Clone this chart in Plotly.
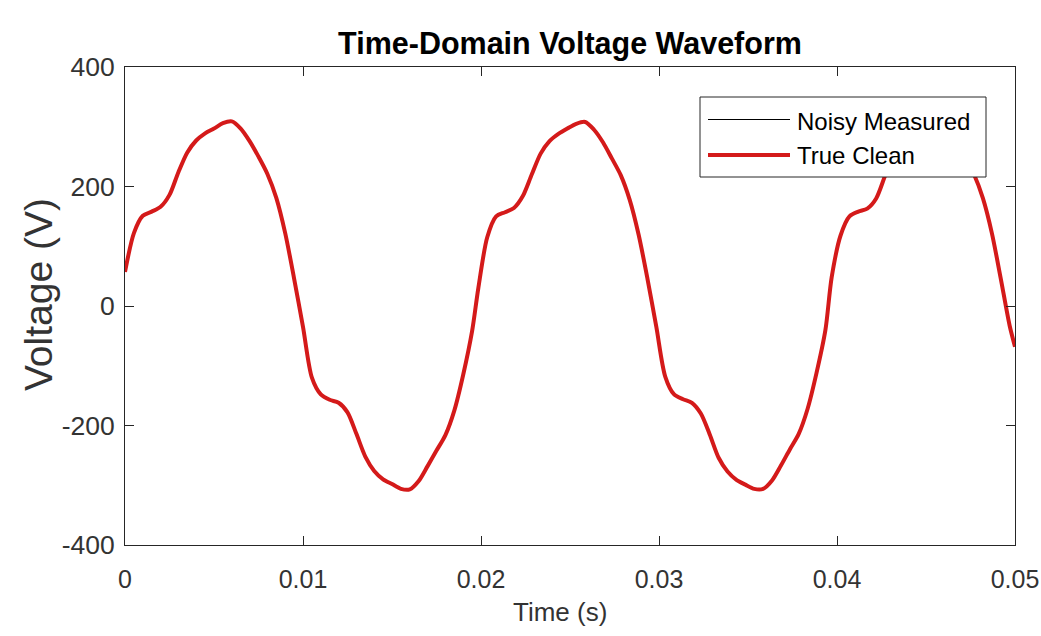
import plotly.graph_objects as go

# ---- data ----
time_c1 = [0.0000, 0.0005, 0.0010, 0.0015, 0.0020, 0.0025, 0.0030, 0.0035, 0.0040, 0.0045,
           0.0050, 0.0055, 0.0060, 0.0065, 0.0070, 0.0075, 0.0080, 0.0085, 0.0090, 0.0095,
           0.0100, 0.0105, 0.0110, 0.0115, 0.0120, 0.0125, 0.0130, 0.0135, 0.0140, 0.0145,
           0.0150, 0.0155, 0.0160, 0.0165, 0.0170, 0.0175, 0.0180, 0.0185, 0.0190, 0.0195]
volt_c1 = [57, 122, 151, 158, 166, 186, 224, 257, 277, 289,
           297, 306, 309, 297, 276, 250, 221, 181, 122, 46,
           -35, -120, -148, -157, -162, -178, -214, -252, -276, -290,
           -298, -306, -307, -293, -268, -242, -216, -175, -115, -42]

time_c2 = [0.01985, 0.02035, 0.02085, 0.02135, 0.02185, 0.02235, 0.02285, 0.02335, 0.02385, 0.02435,
           0.02485, 0.02535, 0.02585, 0.02635, 0.02685, 0.02735, 0.02785, 0.02835, 0.02885, 0.02935,
           0.02985, 0.03035, 0.03085, 0.03135, 0.03185, 0.03235, 0.03285, 0.03335, 0.03385, 0.03435,
           0.03485, 0.03535, 0.03585, 0.03635, 0.03685, 0.03735, 0.03785, 0.03835, 0.03885, 0.03935]
volt_c2 = [30, 115, 150, 157, 164, 184, 220, 255, 276, 288,
           297, 305, 308, 295, 274, 247, 219, 178, 120, 46,
           -35, -118, -148, -156, -162, -180, -215, -254, -277, -291,
           -299, -306, -306, -292, -267, -240, -214, -172, -112, -40]

time_c3 = [0.0397, 0.0402, 0.0407, 0.0412, 0.0417, 0.0422, 0.0427, 0.0432, 0.0437, 0.0442,
           0.0447, 0.0452, 0.0457, 0.0462, 0.0467, 0.0472, 0.0477, 0.0482, 0.0487, 0.0492,
           0.0497, 0.0500]
volt_c3 = [48, 118, 150, 158, 163, 180, 218, 255, 277, 289,
           297, 306, 309, 296, 275, 248, 220, 180, 122, 46,
           -33, -68]

time_s = time_c1 + time_c2 + time_c3
true_clean = volt_c1 + volt_c2 + volt_c3
noisy_measured = list(true_clean)  # hidden underneath the clean trace in the reference

x_ticks = [0, 0.01, 0.02, 0.03, 0.04, 0.05]
x_tick_text = ["0", "0.01", "0.02", "0.03", "0.04", "0.05"]
y_ticks = [-400, -200, 0, 200, 400]
y_tick_text = ["-400", "-200", "0", "200", "400"]
legend_names = ["Noisy Measured", "True Clean"]

# ---- style ----
FONT = "Liberation Sans, Arial, Helvetica, sans-serif"
TXT = "#262626"
TICK_TXT = "#333333"
RED = "#d41a1a"
W, H = 1041, 636
L, R, T, B = 125, 26, 67, 91
PW, PH = W - L - R, H - T - B


def px2x(px):  # page pixel -> paper x
    return (px - L) / PW


def py2y(py):  # page pixel -> paper y
    return (H - B - py) / PH


fig = go.Figure()
fig.add_trace(go.Scatter(x=time_s, y=noisy_measured, mode="lines", name=legend_names[0],
                         line=dict(color="black", width=1, shape="spline", smoothing=0.8),
                         showlegend=False))
fig.add_trace(go.Scatter(x=time_s, y=true_clean, mode="lines", name=legend_names[1],
                         line=dict(color=RED, width=4, shape="spline", smoothing=0.8),
                         showlegend=False))

axis_common = dict(showgrid=False, zeroline=False, showline=True, linecolor=TXT, linewidth=1,
                   mirror="ticks", ticks="inside", ticklen=9, tickcolor=TXT, tickwidth=1,
                   automargin=False)

fig.update_layout(
    width=W, height=H,
    margin=dict(l=L, r=R, t=T, b=B, autoexpand=False),
    paper_bgcolor="white", plot_bgcolor="white",
    title=dict(text="<b>Time-Domain Voltage Waveform</b>", x=px2x(570), xref="paper",
               y=1 - 43 / H, yref="container", xanchor="center", yanchor="middle",
               font=dict(family=FONT, size=30.5, color="black")),
    xaxis=dict(range=[0, 0.05], tickvals=x_ticks, ticktext=x_tick_text,
               ticklabelstandoff=12,
               tickfont=dict(family=FONT, size=25, color=TICK_TXT),
               **axis_common),
    yaxis=dict(range=[-400, 400], tickvals=y_ticks, ticktext=y_tick_text,
               ticklabelstandoff=4,
               tickfont=dict(family=FONT, size=26.5, color=TICK_TXT),
               **axis_common),
)

# axis titles placed as text at the reference positions
fig.add_annotation(text="Time (s)", xref="paper", yref="paper", x=px2x(560), y=py2y(612),
                   xanchor="center", yanchor="middle", showarrow=False,
                   font=dict(family=FONT, size=26, color=TICK_TXT))
fig.add_annotation(text="Voltage (V)", xref="paper", yref="paper", x=px2x(38), y=py2y(295),
                   xanchor="center", yanchor="middle", showarrow=False, textangle=-90,
                   font=dict(family=FONT, size=39, color=TICK_TXT))

# ---- legend box (MATLAB-style) ----
fig.add_shape(type="rect", xref="paper", yref="paper",
              x0=px2x(700), x1=px2x(986), y0=py2y(177), y1=py2y(97),
              fillcolor="white", line=dict(color=TXT, width=1), layer="above")
fig.add_shape(type="line", xref="paper", yref="paper",
              x0=px2x(708), x1=px2x(790), y0=py2y(119.5), y1=py2y(119.5),
              line=dict(color="black", width=1), layer="above")
fig.add_shape(type="line", xref="paper", yref="paper",
              x0=px2x(708), x1=px2x(790), y0=py2y(155), y1=py2y(155),
              line=dict(color=RED, width=4), layer="above")
for name, py in zip(legend_names, [121, 155]):
    fig.add_annotation(text=name, xref="paper", yref="paper", x=px2x(795), y=py2y(py),
                       xanchor="left", yanchor="middle", showarrow=False,
                       font=dict(family=FONT, size=24, color="black"))

# remove the default page margin so the 1041x636 figure fills the window exactly
fig.write_html("out.html",
               config={"displayModeBar": False},
               post_script="document.body.style.margin='0';document.body.style.overflow='hidden';")
